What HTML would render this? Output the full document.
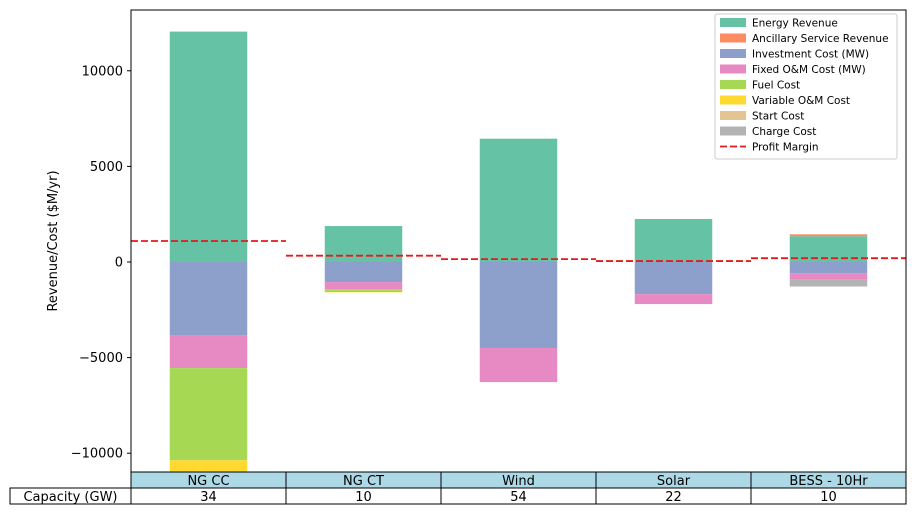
<!DOCTYPE html>
<html><head><meta charset="utf-8"><style>
body{margin:0;background:#fff;font-family:"Liberation Sans","DejaVu Sans",sans-serif;}
svg text{font-family:"DejaVu Sans","Liberation Sans",sans-serif;}
</style></head><body>
<svg id="chart" width="916" height="515" xmlns="http://www.w3.org/2000/svg"></svg>
<script>
const categories=["NG CC","NG CT","Wind","Solar","BESS - 10Hr"];
const capacity=["34","10","54","22","10"];
const seriesNames=["Energy Revenue","Ancillary Service Revenue","Investment Cost (MW)","Fixed O&M Cost (MW)","Fuel Cost","Variable O&M Cost","Start Cost","Charge Cost"];
const seriesColors=["#66c2a5","#fc8d62","#8da0cb","#e78ac3","#a6d854","#ffd92f","#e5c494","#b3b3b3"];
const energyRevenue=[12050,1880,6450,2250,1350];
const ancillaryRevenue=[0,0,0,0,100];
const investmentCost=[-3820,-1050,-4500,-1680,-580];
const fixedOMCost=[-1730,-370,-1780,-520,-330];
const fuelCost=[-4820,-150,0,0,0];
const variableOMCost=[-580,-20,0,0,0];
const startCost=[0,0,0,0,0];
const chargeCost=[0,0,0,0,-370];
const profitMargin=[1100,330,150,50,200];
const yTicks=[-10000,-5000,0,5000,10000];
const series=[energyRevenue,ancillaryRevenue,investmentCost,fixedOMCost,fuelCost,variableOMCost,startCost,chargeCost];

const svg=document.getElementById('chart');
const NS="http://www.w3.org/2000/svg";
const L=131,R=906,T=10,B=472;
const y0=262,ppu=19.12/1000;
function yS(v){return y0-v*ppu;}
const colW=(R-L)/categories.length;
function xC(i){return L+colW*(i+0.5);}
function mk(tag,attrs,name,parent){const e=document.createElementNS(NS,tag);for(const k in attrs)e.setAttribute(k,attrs[k]);


(parent||svg).appendChild(e);return e;}
const clip=mk('clipPath',{id:'pc'},'plot-clip');mk('rect',{x:L,y:T,width:R-L,height:B-T},'plot-clip-rect',clip);
const g=mk('g',{'clip-path':'url(#pc)'},'plot-area');
const bw=colW/2;
categories.forEach((c,i)=>{let pos=0,neg=0;
series.forEach((s,k)=>{const v=s[i];if(!v)return;let a,b;
if(v>0){a=pos;b=pos+v;pos=b;}else{a=neg;b=neg+v;neg=b;}
mk('rect',{x:xC(i)-bw/2,y:yS(Math.max(a,b)),width:bw,height:Math.abs(yS(a)-yS(b)),fill:seriesColors[k]},'bar-'+k+'-'+i,g);});
mk('line',{x1:L+colW*i,x2:L+colW*(i+1),y1:yS(profitMargin[i]),y2:yS(profitMargin[i]),stroke:'#e41a1c',fill:'none','stroke-width':1.8,'stroke-dasharray':'7,3'},'profit-margin-'+i,g);
});
mk('rect',{x:L,y:T,width:R-L,height:B-T,fill:'none',stroke:'#000','stroke-width':1},'plot-frame');
yTicks.forEach(t=>{const y=yS(t);mk('line',{x1:L-4,x2:L,y1:y,y2:y,stroke:'#000'},'y-tick');
const tx=mk('text',{x:L-8,y:y+4.5,'text-anchor':'end','font-size':13},'y-tick-label');tx.textContent=t<0?'\u2212'+Math.abs(t):String(t);});
const yt=mk('text',{x:57,y:241,'text-anchor':'middle','font-size':13,transform:'rotate(-90 57 241)'},'y-axis-title');yt.textContent='Revenue/Cost ($M/yr)';
// table
categories.forEach((c,i)=>{const x=L+colW*i;
mk('rect',{x:x,y:472,width:colW,height:16,fill:'#add8e6',stroke:'#000'},'table-header-cell');
const t=mk('text',{x:x+colW/2,y:485,'text-anchor':'middle','font-size':13},'table-header-text');t.textContent=c;
mk('rect',{x:x,y:488,width:colW,height:16,fill:'#fff',stroke:'#000'},'table-cell');
const t2=mk('text',{x:x+colW/2,y:501,'text-anchor':'middle','font-size':13},'table-cell-text');t2.textContent=capacity[i];});
mk('rect',{x:10,y:488,width:121,height:16,fill:'#fff',stroke:'#000'},'table-row-label-cell');
const rl=mk('text',{x:70.5,y:501,'text-anchor':'middle','font-size':13},'table-row-label');rl.textContent='Capacity (GW)';
// legend
const lg=mk('g',{},'legend');
mk('rect',{x:715,y:14,width:182,height:145,fill:'#fff',stroke:'#ccc',rx:2},'legend-box',lg);
seriesNames.forEach((n,k)=>{const y=18+k*15.5;
mk('rect',{x:720,y:y,width:26,height:9,fill:seriesColors[k]},'legend-swatch',lg);
const t=mk('text',{x:752,y:y+8.5,'font-size':10.5},'legend-entry',lg);t.textContent=n;});
const yl=18+8*15.5+4.5;
mk('line',{x1:720,x2:746,y1:yl,y2:yl,stroke:'#e41a1c','stroke-width':1.8,'stroke-dasharray':'7,3'},'legend-profit-line',lg);
const tl=mk('text',{x:752,y:yl+4,'font-size':10.5},'legend-entry',lg);tl.textContent='Profit Margin';
</script>
</body></html>
